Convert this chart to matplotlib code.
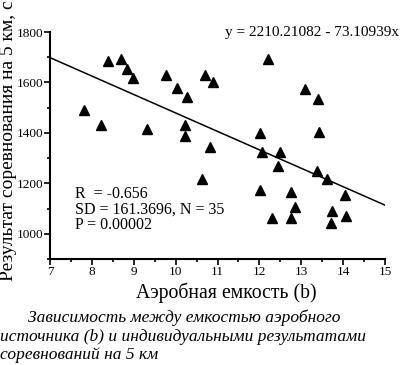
import numpy as np
import matplotlib
matplotlib.use('Agg')
import matplotlib.pyplot as plt
from matplotlib.ticker import MultipleLocator

plt.rcParams['font.family'] = ['Liberation Serif', 'DejaVu Serif']

# аэробная емкость (b) и результат на 5 км, с
aerob = [8.39, 8.69, 8.85, 8.99, 9.77, 10.04, 10.27, 10.69, 10.89, 7.80,
         8.21, 9.31, 10.22, 10.22, 10.82, 12.21, 13.09, 13.41, 12.01, 13.43,
         10.62, 12.06, 12.49, 12.44, 13.38, 13.61, 12.02, 12.75, 14.04, 12.85,
         13.73, 12.30, 12.75, 14.06, 13.71]
result = [1686, 1694, 1652, 1618, 1631, 1578, 1544, 1631, 1602, 1491,
          1431, 1415, 1433, 1389, 1343, 1694, 1573, 1536, 1401, 1405,
          1217, 1325, 1325, 1267, 1248, 1217, 1174, 1164, 1155, 1108,
          1092, 1061, 1063, 1070, 1042]
a0, a1 = 2210.21082, -73.10939
xticks = [7, 8, 9, 10, 11, 12, 13, 14, 15]
yticks = [1000, 1200, 1400, 1600, 1800]

fig = plt.figure(figsize=(4, 3.65), dpi=100)
ax = fig.add_axes([0.125, 0.2904, 0.8375, 0.6219])

ax.plot(aerob, result, linestyle='none', marker='^', color='k', markersize=7)
xl = np.array([7, 15])
ax.plot(xl, a0 + a1 * xl, '-', color='k', lw=1.1)

ax.set_xlim(7, 15)
ax.set_ylim(900, 1800)
ax.set_xticks(xticks)
ax.set_yticks(yticks)
ax.xaxis.set_minor_locator(MultipleLocator(0.5))
ax.yaxis.set_minor_locator(MultipleLocator(100))
ax.tick_params(which='major', direction='out', length=4, width=1.2, labelsize=9.5, pad=1)
ax.tick_params(which='minor', direction='out', length=2.5, width=1.2)
for s in ['top', 'right']:
    ax.spines[s].set_visible(False)
for s in ['left', 'bottom']:
    ax.spines[s].set_linewidth(1.5)

ax.text(7.6, 1188, 'R  = -0.656\nSD = 161.3696, N = 35\nP = 0.00002',
        fontsize=11.5, va='top', linespacing=0.95)
fig.text(0.997, 0.91, 'y = 2210.21082 - 73.10939x', fontsize=11, ha='right', va='center')

fig.text(0.021, 0.614, 'Результат соревнования на 5 км, с', fontsize=14,
         rotation=90, ha='center', va='center')
fig.text(0.567, 0.197, 'Аэробная емкость (b)', fontsize=14.2, ha='center', va='center')

fig.text(0.07, 0.13, 'Зависимость между емкостью аэробного', fontsize=12.5,
         style='italic', va='center')
fig.text(0.0, 0.078, 'источника (b) и индивидуальными результатами', fontsize=12.5,
         style='italic', va='center')
fig.text(0.0, 0.028, 'соревнований на 5 км', fontsize=12.5,
         style='italic', va='center')

fig.savefig('out.png', dpi=100)
